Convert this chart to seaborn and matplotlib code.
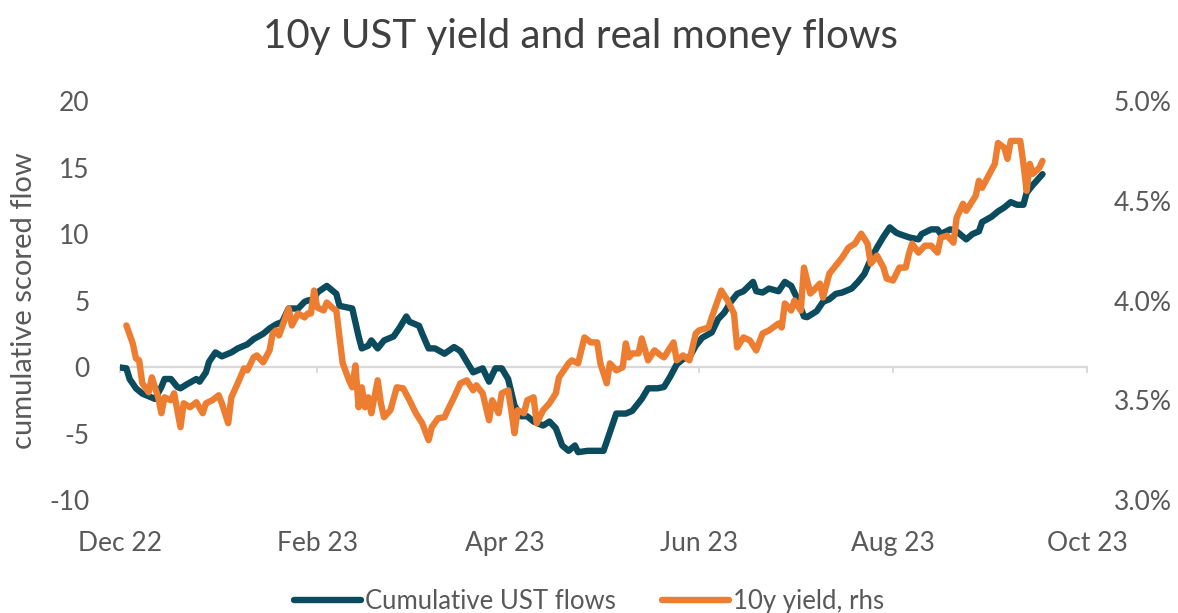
import pandas as pd
import seaborn as sns
import matplotlib.pyplot as plt
import matplotlib.dates as mdates
from matplotlib.ticker import FuncFormatter, MultipleLocator

# Cumulative UST flows (left axis)
flow_dates = [
    "2022-11-30", "2022-12-03", "2022-12-04", "2022-12-06", "2022-12-08", "2022-12-10",
    "2022-12-12", "2022-12-14", "2022-12-15", "2022-12-17", "2022-12-19", "2022-12-20",
    "2022-12-22", "2022-12-25", "2022-12-26", "2022-12-28", "2022-12-29", "2022-12-31",
    "2023-01-02", "2023-01-05", "2023-01-07", "2023-01-10", "2023-01-12", "2023-01-15",
    "2023-01-17", "2023-01-19", "2023-01-21", "2023-01-23", "2023-01-26", "2023-01-28",
    "2023-01-29", "2023-01-31", "2023-02-01", "2023-02-04", "2023-02-07", "2023-02-08",
    "2023-02-12", "2023-02-14", "2023-02-15", "2023-02-17", "2023-02-18", "2023-02-20",
    "2023-02-22", "2023-02-25", "2023-02-27", "2023-03-01", "2023-03-02", "2023-03-05",
    "2023-03-06", "2023-03-08", "2023-03-10", "2023-03-13", "2023-03-16", "2023-03-18",
    "2023-03-20", "2023-03-22", "2023-03-25", "2023-03-27", "2023-03-29", "2023-03-31",
    "2023-04-02", "2023-04-04", "2023-04-06", "2023-04-08", "2023-04-10", "2023-04-13",
    "2023-04-15", "2023-04-17", "2023-04-19", "2023-04-21", "2023-04-23", "2023-04-24",
    "2023-04-27", "2023-04-30", "2023-05-02", "2023-05-04", "2023-05-06", "2023-05-09",
    "2023-05-11", "2023-05-14", "2023-05-16", "2023-05-19", "2023-05-21", "2023-05-23",
    "2023-05-25", "2023-05-27", "2023-05-29", "2023-05-31", "2023-06-02", "2023-06-05",
    "2023-06-07", "2023-06-09", "2023-06-11", "2023-06-13", "2023-06-15", "2023-06-18",
    "2023-06-19", "2023-06-21", "2023-06-23", "2023-06-26", "2023-06-28", "2023-06-30",
    "2023-07-02", "2023-07-04", "2023-07-05", "2023-07-08", "2023-07-10", "2023-07-12",
    "2023-07-14", "2023-07-16", "2023-07-19", "2023-07-21", "2023-07-23", "2023-07-25",
    "2023-07-27", "2023-07-29", "2023-07-31", "2023-08-02", "2023-08-03", "2023-08-06",
    "2023-08-09", "2023-08-10", "2023-08-13", "2023-08-15", "2023-08-16", "2023-08-19",
    "2023-08-21", "2023-08-23", "2023-08-24", "2023-08-26", "2023-08-28", "2023-08-29",
    "2023-09-01", "2023-09-03", "2023-09-05", "2023-09-07", "2023-09-09", "2023-09-11",
    "2023-09-12", "2023-09-14", "2023-09-17",
]
flow_values = [
    0.0, -0.1, -0.9, -1.6, -2.0, -2.2,
    -2.4, -1.5, -0.9, -0.9, -1.5, -1.6,
    -1.3, -0.9, -1.1, -0.4, 0.4, 1.1,
    0.8, 1.1, 1.4, 1.7, 2.1, 2.5,
    2.9, 3.2, 3.4, 4.4, 4.4, 4.9,
    5.0, 5.1, 5.6, 6.1, 5.5, 4.6,
    4.4, 2.3, 1.4, 1.6, 2.0, 1.4,
    2.0, 2.3, 3.0, 3.8, 3.4, 3.1,
    2.5, 1.4, 1.4, 1.0, 1.5, 1.2,
    0.4, -0.4, -0.1, -1.1, -0.1, -0.1,
    -0.9, -2.9, -3.7, -3.7, -4.1, -4.4,
    -4.1, -4.6, -5.9, -6.3, -5.9, -6.4,
    -6.3, -6.3, -6.3, -4.9, -3.5, -3.5,
    -3.3, -2.4, -1.6, -1.6, -1.5, -0.7,
    0.2, 0.6, 0.75, 1.6, 2.2, 2.6,
    3.6, 4.1, 4.9, 5.5, 5.7, 6.4,
    5.7, 5.6, 5.9, 5.7, 6.4, 6.1,
    5.1, 3.8, 3.75, 4.2, 4.9, 5.1,
    5.5, 5.6, 5.9, 6.4, 7.0, 8.1,
    9.0, 9.8, 10.5, 10.1, 10.0, 9.75,
    9.6, 10.0, 10.35, 10.35, 10.0, 10.35,
    10.2, 9.8, 9.6, 10.0, 10.2, 10.9,
    11.3, 11.7, 12.0, 12.4, 12.2, 12.2,
    13.1, 13.7, 14.5,
]

# 10y yield in % (right axis)
yield_dates = [
    "2022-12-03", "2022-12-05", "2022-12-06", "2022-12-07", "2022-12-08", "2022-12-10",
    "2022-12-11", "2022-12-13", "2022-12-14", "2022-12-15", "2022-12-17", "2022-12-18",
    "2022-12-20", "2022-12-21", "2022-12-23", "2022-12-25", "2022-12-27", "2022-12-28",
    "2022-12-30", "2023-01-01", "2023-01-02", "2023-01-04", "2023-01-05", "2023-01-07",
    "2023-01-09", "2023-01-10", "2023-01-12", "2023-01-13", "2023-01-15", "2023-01-17",
    "2023-01-18", "2023-01-19", "2023-01-20", "2023-01-22", "2023-01-23", "2023-01-24",
    "2023-01-26", "2023-01-28", "2023-01-29", "2023-01-30", "2023-01-31", "2023-02-01",
    "2023-02-03", "2023-02-04", "2023-02-06", "2023-02-07", "2023-02-08", "2023-02-09",
    "2023-02-11", "2023-02-12", "2023-02-13", "2023-02-14", "2023-02-15", "2023-02-16",
    "2023-02-17", "2023-02-18", "2023-02-20", "2023-02-21", "2023-02-22", "2023-02-24",
    "2023-02-26", "2023-02-28", "2023-03-02", "2023-03-04", "2023-03-06", "2023-03-08",
    "2023-03-09", "2023-03-11", "2023-03-13", "2023-03-14", "2023-03-16", "2023-03-18",
    "2023-03-20", "2023-03-22", "2023-03-23", "2023-03-25", "2023-03-27", "2023-03-28",
    "2023-03-30", "2023-03-31", "2023-04-02", "2023-04-03", "2023-04-04", "2023-04-05",
    "2023-04-07", "2023-04-08", "2023-04-10", "2023-04-11", "2023-04-13", "2023-04-15",
    "2023-04-17", "2023-04-18", "2023-04-21", "2023-04-22", "2023-04-24", "2023-04-26",
    "2023-04-28", "2023-04-30", "2023-05-01", "2023-05-03", "2023-05-04", "2023-05-06",
    "2023-05-08", "2023-05-09", "2023-05-10", "2023-05-11", "2023-05-13", "2023-05-14",
    "2023-05-16", "2023-05-18", "2023-05-20", "2023-05-21", "2023-05-24", "2023-05-25",
    "2023-05-27", "2023-05-29", "2023-05-31", "2023-06-01", "2023-06-04", "2023-06-05",
    "2023-06-08", "2023-06-10", "2023-06-12", "2023-06-13", "2023-06-15", "2023-06-17",
    "2023-06-19", "2023-06-21", "2023-06-23", "2023-06-26", "2023-06-27", "2023-06-28",
    "2023-06-30", "2023-07-01", "2023-07-03", "2023-07-04", "2023-07-06", "2023-07-07",
    "2023-07-09", "2023-07-10", "2023-07-12", "2023-07-14", "2023-07-16", "2023-07-18",
    "2023-07-20", "2023-07-22", "2023-07-24", "2023-07-25", "2023-07-27", "2023-07-29",
    "2023-07-30", "2023-08-01", "2023-08-03", "2023-08-05", "2023-08-06", "2023-08-07",
    "2023-08-09", "2023-08-11", "2023-08-13", "2023-08-15", "2023-08-16", "2023-08-18",
    "2023-08-20", "2023-08-21", "2023-08-23", "2023-08-24", "2023-08-26", "2023-08-27",
    "2023-08-28", "2023-08-29", "2023-08-31", "2023-09-02", "2023-09-03", "2023-09-05",
    "2023-09-06", "2023-09-07", "2023-09-10", "2023-09-11", "2023-09-12", "2023-09-13",
    "2023-09-14", "2023-09-16", "2023-09-17",
]
yield_values = [
    3.875, 3.785, 3.71, 3.70, 3.585, 3.54,
    3.615, 3.515, 3.435, 3.515, 3.50, 3.535,
    3.365, 3.485, 3.465, 3.49, 3.435, 3.485,
    3.50, 3.525, 3.485, 3.385, 3.515, 3.585,
    3.66, 3.65, 3.715, 3.725, 3.69, 3.75,
    3.835, 3.85, 3.825, 3.915, 3.96, 3.875,
    3.935, 3.915, 3.935, 3.935, 4.05, 3.965,
    3.95, 3.99, 3.96, 3.95, 3.815, 3.685,
    3.60, 3.565, 3.675, 3.465, 3.565, 3.465,
    3.515, 3.435, 3.60, 3.485, 3.415, 3.45,
    3.565, 3.56, 3.50, 3.435, 3.385, 3.30,
    3.365, 3.41, 3.415, 3.45, 3.515, 3.585,
    3.60, 3.55, 3.575, 3.535, 3.40, 3.50,
    3.435, 3.535, 3.55, 3.45, 3.335, 3.45,
    3.435, 3.50, 3.515, 3.385, 3.45, 3.485,
    3.535, 3.615, 3.685, 3.70, 3.685, 3.815,
    3.79, 3.79, 3.685, 3.585, 3.685, 3.65,
    3.665, 3.785, 3.715, 3.735, 3.735, 3.81,
    3.70, 3.75, 3.725, 3.715, 3.79, 3.70,
    3.725, 3.70, 3.835, 3.85, 3.865, 3.915,
    4.05, 4.00, 3.935, 3.765, 3.815, 3.80,
    3.75, 3.835, 3.85, 3.885, 3.865, 3.985,
    3.95, 4.00, 3.95, 4.165, 4.035, 4.05,
    4.085, 4.015, 4.135, 4.175, 4.215, 4.265,
    4.285, 4.335, 4.285, 4.185, 4.225, 4.165,
    4.11, 4.10, 4.165, 4.165, 4.235, 4.285,
    4.24, 4.275, 4.275, 4.24, 4.315, 4.325,
    4.29, 4.415, 4.485, 4.45, 4.50, 4.525,
    4.60, 4.565, 4.625, 4.685, 4.79, 4.765,
    4.71, 4.80, 4.80, 4.685, 4.55, 4.685,
    4.635, 4.665, 4.70,
]

flows = pd.DataFrame({"date": pd.to_datetime(flow_dates), "value": flow_values})
yields = pd.DataFrame({"date": pd.to_datetime(yield_dates), "value": yield_values})

blue = "#0b4b5e"
orange = "#ed7d31"
text_grey = "#595959"

sns.set_theme(style="white")
plt.rcParams["font.family"] = ["Lato", "DejaVu Sans"]
plt.rcParams["axes.unicode_minus"] = False

fig = plt.figure(figsize=(11.78, 6.13), dpi=100)
ax = fig.add_axes([0.1019, 0.1843, 0.8209, 0.6509])

sns.lineplot(data=flows, x="date", y="value", ax=ax, color=blue,
             linewidth=4.6, label="Cumulative UST flows", legend=False)
ax.set_ylim(-10, 20)
ax.yaxis.set_major_locator(MultipleLocator(5))
ax.set_xlim(pd.Timestamp("2022-12-01"), pd.Timestamp("2023-10-01"))

ax2 = ax.twinx()
sns.lineplot(data=yields, x="date", y="value", ax=ax2, color=orange,
             linewidth=4.6, label="10y yield, rhs", legend=False)
ax2.set_ylim(3.0, 5.0)
ax2.yaxis.set_major_locator(MultipleLocator(0.5))
ax2.yaxis.set_major_formatter(FuncFormatter(lambda v, p: f"{v:.1f}%"))

months = mdates.MonthLocator(bymonth=[12, 2, 4, 6, 8, 10], bymonthday=1)

# x labels at the bottom, no spine
ax.xaxis.set_major_locator(months)
ax.xaxis.set_major_formatter(mdates.DateFormatter("%b %y"))
ax.tick_params(axis="x", length=0, pad=22, labelsize=19, labelcolor=text_grey)
ax.tick_params(axis="y", length=0, pad=22, labelsize=19, labelcolor=text_grey)
ax2.tick_params(axis="y", length=0, pad=19, labelsize=19, labelcolor=text_grey)
ax.set_xlabel("")
ax2.set_xlabel("")
ax2.set_ylabel("")
ax.set_ylabel("cumulative scored flow", fontsize=21, color=text_grey)
ax.yaxis.set_label_coords(-0.086, 0.5)

for a in (ax, ax2):
    for s in a.spines.values():
        s.set_visible(False)

# zero line with month ticks
zero_pos = (0 - ax.get_ylim()[0]) / (ax.get_ylim()[1] - ax.get_ylim()[0])
zx = ax.secondary_xaxis(zero_pos)
zx.xaxis.set_major_locator(months)
zx.spines["bottom"].set_visible(True)
zx.spines["bottom"].set_color("#d9d9d9")
zx.spines["bottom"].set_linewidth(1.6)
zx.tick_params(axis="x", direction="out", length=4, width=1.4, color="#d9d9d9",
               labelbottom=False, labeltop=False, top=False, bottom=True)

fig.suptitle("10y UST yield and real money flows", x=0.493, y=0.97,
             fontsize=29, color="#404040")

handles = ax.get_lines()[:1] + ax2.get_lines()[:1]
fig.legend(handles, [h.get_label() for h in handles], loc="center",
           bbox_to_anchor=(0.5, 0.018), ncol=2, frameon=False, fontsize=18.5,
           labelcolor=text_grey, handlelength=2.6, handletextpad=0.15,
           columnspacing=1.8)

fig.savefig("out.png", dpi=100)
